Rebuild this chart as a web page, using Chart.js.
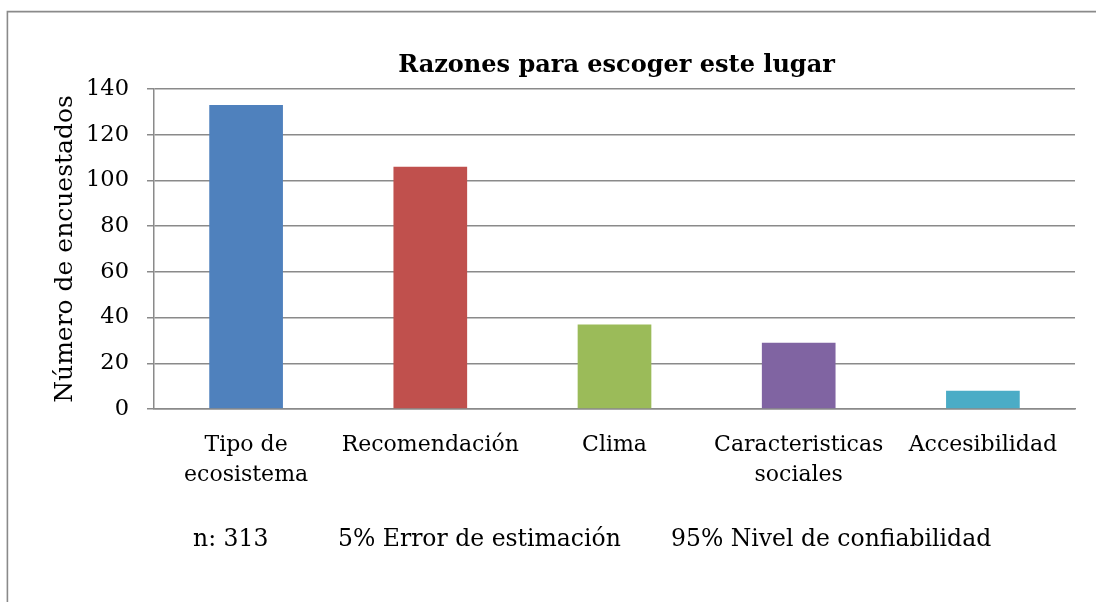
<!DOCTYPE html>
<html>
<head>
<meta charset="utf-8">
<script src="https://cdn.jsdelivr.net/npm/chart.js@4.4.0/dist/chart.umd.min.js"></script>
<style>
  html, body { margin: 0; padding: 0; background: #fff; }
  #wrap { width: 1096px; height: 602px; }
</style>
</head>
<body>
<div id="wrap"><canvas id="c" width="1096" height="602"></canvas></div>
<script>
// datos
var categorias = [['Tipo de', 'ecosistema'], 'Recomendación', 'Clima', ['Caracteristicas', 'sociales'], 'Accesibilidad'];
var encuestados = [133, 106, 37, 29, 8];
var colores = ['#4F81BD', '#C0504D', '#9BBB59', '#8064A2', '#4BACC6'];
var notas = ['n: 313', '5% Error de estimación', '95% Nivel de confiabilidad'];
var titulo = 'Razones para escoger este lugar';
var tituloY = 'Número de encuestados';

var fuente = 'DejaVu Serif';
var gris = '#8a8a8a';

// marco, titulo centrado sobre el area de trazado y notas al pie
var marco = {
  id: 'marco',
  afterDraw: function(chart) {
    var ctx = chart.ctx;
    var area = chart.chartArea;
    ctx.save();
    ctx.strokeStyle = gris;
    ctx.lineWidth = 1.6;
    ctx.beginPath();
    ctx.moveTo(7.4, 602);
    ctx.lineTo(7.4, 11.6);
    ctx.lineTo(1096, 11.6);
    ctx.stroke();

    ctx.fillStyle = '#000';
    ctx.textBaseline = 'middle';
    ctx.textAlign = 'center';
    ctx.font = 'bold 24px "' + fuente + '"';
    ctx.fillText(titulo, (area.left + area.right) / 2 + 2, 66);

    ctx.textAlign = 'left';
    ctx.font = '23.5px "' + fuente + '"';
    var xs = [193, 338, 671];
    for (var i = 0; i < notas.length; i++) {
      ctx.fillText(notas[i], xs[i], 540);
    }
    ctx.restore();
  }
};

new Chart(document.getElementById('c'), {
  type: 'bar',
  data: {
    labels: categorias,
    datasets: [{
      data: encuestados,
      backgroundColor: colores,
      borderWidth: 0,
      categoryPercentage: 1,
      barPercentage: 0.4
    }]
  },
  options: {
    responsive: false,
    animation: false,
    layout: { padding: { left: 0, right: 21, top: 89, bottom: 0 } },
    plugins: {
      legend: { display: false },
      tooltip: { enabled: false },
      title: { display: false }
    },
    scales: {
      x: {
        grid: { display: false, drawTicks: false },
        border: { display: true, color: gris, width: 1.5 },
        ticks: {
          color: '#000',
          maxRotation: 0,
          autoSkip: false,
          padding: 21,
          font: { family: fuente, size: 22, lineHeight: 1.36 }
        },
        afterFit: function(s) { s.height = 193; }
      },
      y: {
        min: 0,
        max: 140,
        ticks: {
          stepSize: 20,
          color: '#000',
          padding: 18,
          font: { family: fuente, size: 22.5 }
        },
        grid: { color: gris, lineWidth: 1.5, tickLength: 7 },
        border: { display: true, color: gris, width: 1.5 },
        title: {
          display: true,
          text: tituloY,
          color: '#000',
          font: { family: fuente, size: 25, lineHeight: 1.2 },
          padding: { top: 50, bottom: 0 }
        },
        afterFit: function(s) { s.width = 154; }
      }
    }
  },
  plugins: [marco]
});
</script>
</body>
</html>
